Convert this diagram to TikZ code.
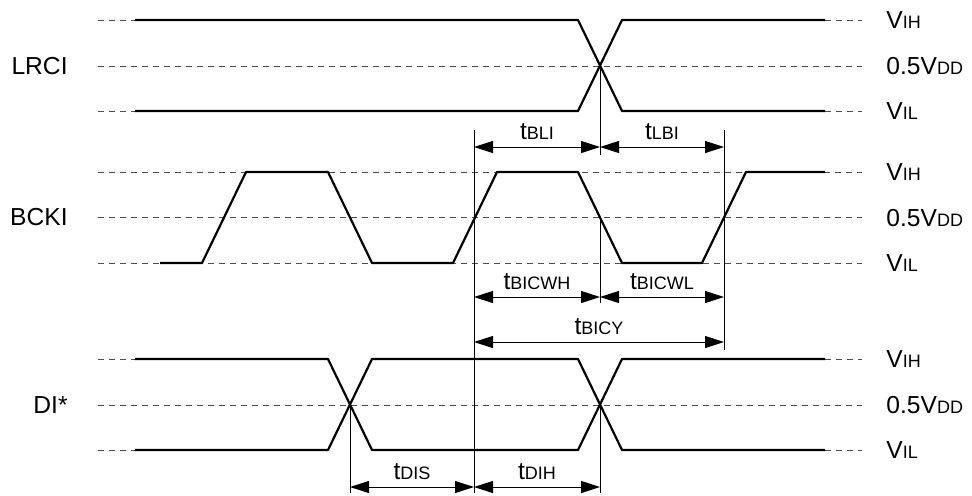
\documentclass[tikz,border=0pt]{standalone}
\usepackage{fontspec}
\setmainfont{Liberation Sans}
\usetikzlibrary{arrows.meta}
\newcommand{\lowtxt}[1]{{\fontsize{9}{10}\selectfont #1}}
\begin{document}
\begin{tikzpicture}[x=0.5pt,y=-0.5pt,
  font=\fontsize{12.3}{14}\selectfont,
  guide/.style={black!70,line width=0.45pt,dash pattern=on 3pt off 2.5pt},
  wave/.style={line width=1.1pt,line join=round},
  timeline/.style={line width=0.5pt},
  dim/.style={line width=0.5pt,{Triangle[length=9.5pt,width=6pt]}-{Triangle[length=9.5pt,width=6pt]}},
  lvl/.style={anchor=west,inner sep=0pt},
  sig/.style={anchor=east,inner sep=0pt}]
\useasboundingbox (0,0) rectangle (972,495);
% level guides
\foreach \y in {66,172,217,263,405} \draw[guide] (98,\y) -- (862,\y);
\foreach \y in {20,111,359,450} {
  \draw[guide] (98,\y) -- (135,\y);
  \draw[guide] (825,\y) -- (862,\y);
}
% signal names
\node[sig] (lrci) at (68,66) {LRCI};
\node[sig] (bcki) at (68,217) {BCKI};
\node[sig] (di) at (68,405) {DI*};
% level names
\foreach \r/\y in {a/0,b/152,c/339} {
  \node[lvl] (vih\r) at (886,20+\y) {V\lowtxt{IH}};
  \node[lvl] (vdd\r) at (886,66+\y) {0.5V\lowtxt{DD}};
  \node[lvl] (vil\r) at (886,111+\y) {V\lowtxt{IL}};
}
% LRCI
\draw[wave] (135,20) -- (578,20) -- (622,111) -- (825,111);
\draw[wave] (135,111) -- (578,111) -- (622,20) -- (825,20);
% BCKI
\draw[wave] (160,263) -- (202,263) -- (246,172) -- (328,172) -- (372,263) -- (453,263)
  -- (497,172) -- (578,172) -- (622,263) -- (702,263) -- (746,172) -- (825,172);
% DI*
\draw[wave] (135,359) -- (328,359) -- (372,450) -- (578,450) -- (622,359) -- (825,359);
\draw[wave] (135,450) -- (328,450) -- (372,359) -- (578,359) -- (622,450) -- (825,450);
% reference lines
\coordinate (lrx) at (600,66);
\coordinate (bckx) at (600,217);
\coordinate (dix1) at (350,405);
\coordinate (dix2) at (600,405);
\draw[timeline] (474,130) -- (474,493);
\draw[timeline] (724,130) -- (724,350);
\draw[timeline] (lrx) -- (600,155);
\draw[timeline] (bckx) -- (600,303);
\draw[timeline] (dix1) -- (350,493);
\draw[timeline] (dix2) -- (600,493);
% timing arrows
\coordinate (bli1) at (474,147);
\coordinate (bli2) at (600,147);
\coordinate (lbi2) at (724,147);
\coordinate (wh1) at (474,297);
\coordinate (wh2) at (600,297);
\coordinate (wl2) at (724,297);
\coordinate (cy1) at (474,342);
\coordinate (cy2) at (724,342);
\coordinate (dis1) at (350,487);
\coordinate (dih1) at (474,487);
\coordinate (dih2) at (600,487);
\draw[dim] (bli1) -- (bli2) node[midway,anchor=base,yshift=4pt] (tbli) {t\lowtxt{BLI}};
\draw[dim] (bli2) -- (lbi2) node[midway,anchor=base,yshift=4pt] (tlbi) {t\lowtxt{LBI}};
\draw[dim] (wh1) -- (wh2) node[midway,anchor=base,yshift=4pt] (twh) {t\lowtxt{BICWH}};
\draw[dim] (wh2) -- (wl2) node[midway,anchor=base,yshift=4pt] (twl) {t\lowtxt{BICWL}};
\draw[dim] (cy1) -- (cy2) node[midway,anchor=base,yshift=4pt] (tcy) {t\lowtxt{BICY}};
\draw[dim] (dis1) -- (dih1) node[midway,anchor=base,yshift=4pt] (tdis) {t\lowtxt{DIS}};
\draw[dim] (dih1) -- (dih2) node[midway,anchor=base,yshift=4pt] (tdih) {t\lowtxt{DIH}};
\end{tikzpicture}
\end{document}
